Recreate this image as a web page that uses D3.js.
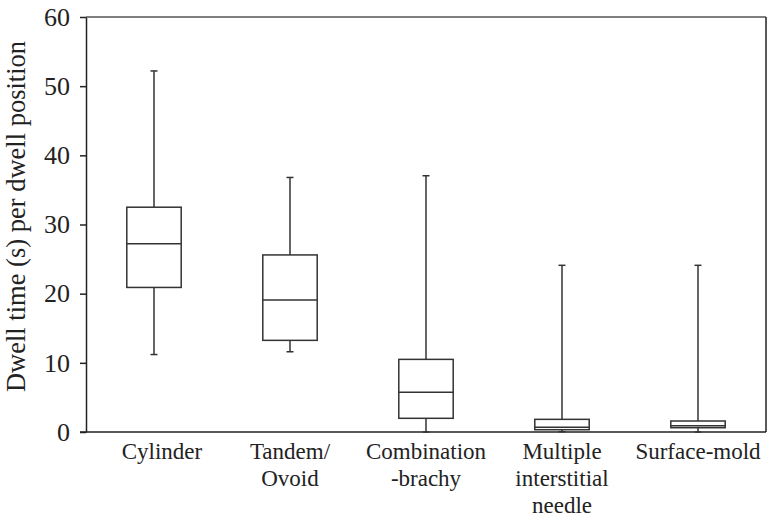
<!DOCTYPE html>
<html>
<head>
<meta charset="utf-8">
<script src="https://cdn.jsdelivr.net/npm/d3@7"></script>
<style>
  body { margin: 0; background: #fff; }
  svg text { font-family: "Liberation Serif", Tinos, "Times New Roman", Times, serif; fill: #222; }
</style>
</head>
<body>
<div id="chart"></div>
<script>
// categories and box-plot stats
const categories = ["Cylinder", "Tandem/\nOvoid", "Combination\n-brachy", "Multiple\ninterstitial\nneedle", "Surface-mold"];
const whiskerLow = [11.2, 11.6, 0.0, 0.05, 0.0];
const q1 = [20.9, 13.25, 1.98, 0.33, 0.62];
const median = [27.2, 19.1, 5.74, 0.68, 0.91];
const q3 = [32.5, 25.6, 10.5, 1.83, 1.59];
const whiskerHigh = [52.2, 36.8, 37.05, 24.1, 24.1];
const yTicks = [0, 10, 20, 30, 40, 50, 60];

const boxes = categories.map((c, i) => ({
  cat: c, lo: whiskerLow[i], q1: q1[i], med: median[i], q3: q3[i], hi: whiskerHigh[i]
}));

const width = 771, height = 519;
const margin = {top: 17, right: 5, bottom: 87, left: 86};
const innerW = width - margin.left - margin.right,
      innerH = height - margin.top - margin.bottom;

const svg = d3.select("#chart").append("svg")
    .attr("width", width)
    .attr("height", height);

const g = svg.append("g")
    .attr("transform", "translate(" + margin.left + "," + margin.top + ")");

const x = d3.scaleBand()
    .domain(categories)
    .range([0, innerW])
    .padding(0);

const y = d3.scaleLinear()
    .domain([0, 60])
    .range([innerH, 0]);

const stroke = "#333";
const boxW = x.bandwidth() * 0.4;
const capW = 7;

// frame (top and right)
g.append("line").attr("x1", 0).attr("x2", innerW).attr("y1", 0).attr("y2", 0)
    .attr("stroke", "#555").attr("stroke-width", 1.5);
g.append("line").attr("x1", innerW).attr("x2", innerW).attr("y1", 0).attr("y2", innerH)
    .attr("stroke", "#222").attr("stroke-width", 1.5);

// y axis
const yAxis = g.append("g")
    .call(d3.axisLeft(y).tickValues(yTicks).tickSize(6).tickPadding(10).tickSizeOuter(0))
    .attr("font-family", null);
yAxis.select(".domain").attr("stroke", "#222").attr("stroke-width", 1.5);
yAxis.selectAll(".tick line").attr("stroke", "#222").attr("stroke-width", 1.5);
yAxis.selectAll(".tick text")
    .attr("font-size", 26)
    .attr("fill", "#222");

// x axis (no ticks), baseline extends left to the tick end
g.append("line").attr("x1", -6).attr("x2", innerW).attr("y1", innerH).attr("y2", innerH)
    .attr("stroke", "#222").attr("stroke-width", 1.5);

// x labels (first one sits a bit right of its box in the original)
const xl = g.append("g").selectAll("text")
    .data(categories)
    .join("text")
    .attr("x", (d, i) => x(d) + x.bandwidth() / 2 + (i === 0 ? 8 : 0))
    .attr("y", innerH + 27)
    .attr("text-anchor", "middle")
    .attr("font-size", 23);
xl.selectAll("tspan")
    .data(d => d.split("\n"))
    .join("tspan")
    .attr("x", function() { return d3.select(this.parentNode).attr("x"); })
    .attr("dy", (d, i) => i === 0 ? 0 : 27)
    .text(d => d);

// y title
svg.append("text")
    .attr("transform", "translate(25,216.5) rotate(-90)")
    .attr("text-anchor", "middle")
    .attr("font-size", 26.5)
    .text("Dwell time (s) per dwell position");

// boxes
const bx = g.append("g").selectAll("g")
    .data(boxes)
    .join("g")
    .attr("transform", d => "translate(" + (x(d.cat) + x.bandwidth() / 2) + ",0)");

bx.append("line") // upper whisker
    .attr("x1", 0).attr("x2", 0)
    .attr("y1", d => y(d.q3)).attr("y2", d => y(d.hi))
    .attr("stroke", stroke).attr("stroke-width", 1.5);
bx.append("line") // lower whisker
    .attr("x1", 0).attr("x2", 0)
    .attr("y1", d => y(d.q1)).attr("y2", d => y(d.lo))
    .attr("stroke", stroke).attr("stroke-width", 1.5);
bx.append("line")
    .attr("x1", -capW / 2).attr("x2", capW / 2)
    .attr("y1", d => y(d.hi)).attr("y2", d => y(d.hi))
    .attr("stroke", stroke).attr("stroke-width", 1.5);
bx.append("line")
    .attr("x1", -capW / 2).attr("x2", capW / 2)
    .attr("y1", d => y(d.lo)).attr("y2", d => y(d.lo))
    .attr("stroke", stroke).attr("stroke-width", 1.5);
bx.append("rect")
    .attr("x", -boxW / 2)
    .attr("width", boxW)
    .attr("y", d => y(d.q3))
    .attr("height", d => y(d.q1) - y(d.q3))
    .attr("fill", "#fff")
    .attr("stroke", stroke).attr("stroke-width", 1.5);
bx.append("line")
    .attr("x1", -boxW / 2).attr("x2", boxW / 2)
    .attr("y1", d => y(d.med)).attr("y2", d => y(d.med))
    .attr("stroke", stroke).attr("stroke-width", 1.5);
</script>
</body>
</html>
